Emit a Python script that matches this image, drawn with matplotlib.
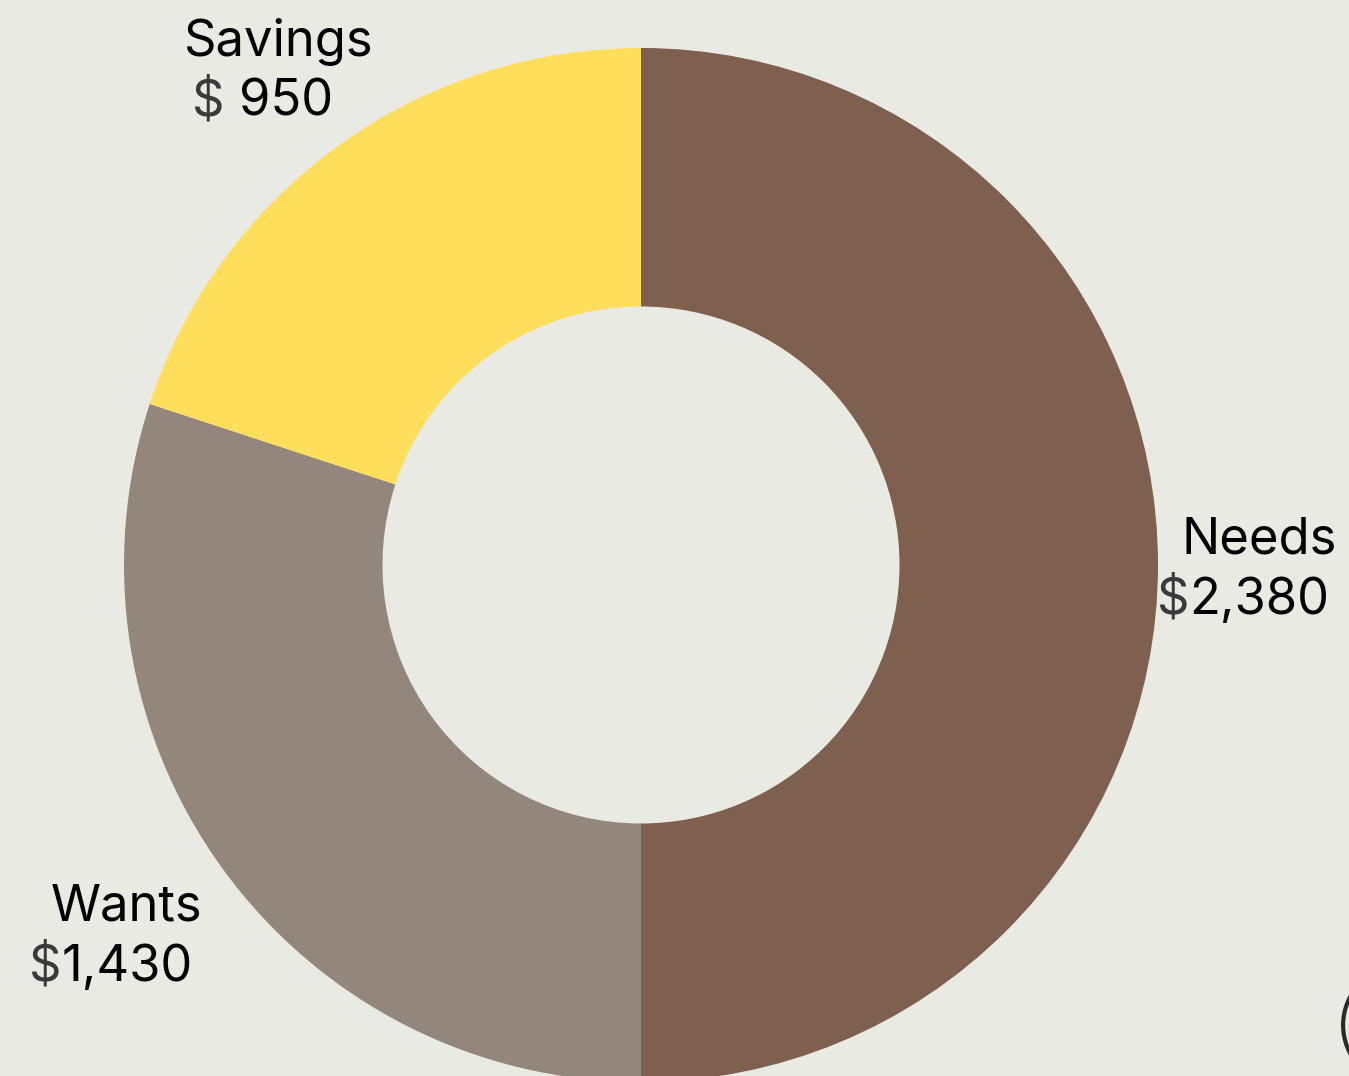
import numpy as np
import matplotlib.pyplot as plt
from matplotlib.patches import Circle

# ===== DATA =====
categories = ["Needs", "Wants", "Savings"]
amounts = [2380, 1430, 950]
value_labels = ["2,380", "1,430", "950"]
colors = ["#7F5F4D", "#93877D", "#FFDE5C"]

# ===== STYLE =====
bg = "#EAEAE4"
plt.rcParams['font.family'] = ['Inter', 'DejaVu Sans']
fsize = 36.5
label_radius = [1.18, 1.235, 1.20]     # distance of each label block from center
label_dangle = [0.0, -0.8, 0.7]        # small angular nudge (deg)
dollar_gap = [0, 0, 10]                # extra space after "$" (points)

fig = plt.figure(figsize=(13.49, 10.76), dpi=100, facecolor=bg)
ax = fig.add_axes([0, 0, 1, 1])
ax.set_facecolor(bg)
ax.axis('off')

wedges, _ = ax.pie(amounts, colors=colors, startangle=90, counterclock=False,
                   radius=1.0, wedgeprops=dict(width=0.5, linewidth=0),
                   frame=False)
ax.set_xlim(-1.2398, 1.3694)
ax.set_ylim(-0.9884, 1.0928)
ax.set_aspect('auto')

# ===== LABELS =====
for w, name, val, r, da, gap in zip(wedges, categories, value_labels,
                                    label_radius, label_dangle, dollar_gap):
    mid = np.deg2rad((w.theta1 + w.theta2) / 2 + da)
    x0, y0 = r * np.cos(mid), r * np.sin(mid)
    ax.text(x0 + 0.016, y0 + 0.022, name, ha='center', va='baseline',
            fontsize=fsize, color='black')
    # value line: grey "$" followed by black number
    ghost = ax.text(x0 - 0.016, y0 - 0.094, "$" + val, ha='center', va='baseline',
                    fontsize=fsize, alpha=0)
    ax.annotate("$", xy=(0, 0), xycoords=ghost, xytext=(-gap / 2, 0),
                textcoords='offset points', ha='left', va='bottom',
                fontsize=fsize, color='#3A3A3A')
    ax.annotate(val, xy=(1, 0), xycoords=ghost, xytext=(gap / 2, 0),
                textcoords='offset points', ha='right', va='bottom',
                fontsize=fsize, color='black')

# clipped ring at the bottom-right edge
ax.add_patch(Circle((1.474, -0.89), 0.116, facecolor='none',
                    edgecolor='#2A2A2A', linewidth=3, clip_on=False))

fig.savefig("out.png", dpi=100, facecolor=bg)
